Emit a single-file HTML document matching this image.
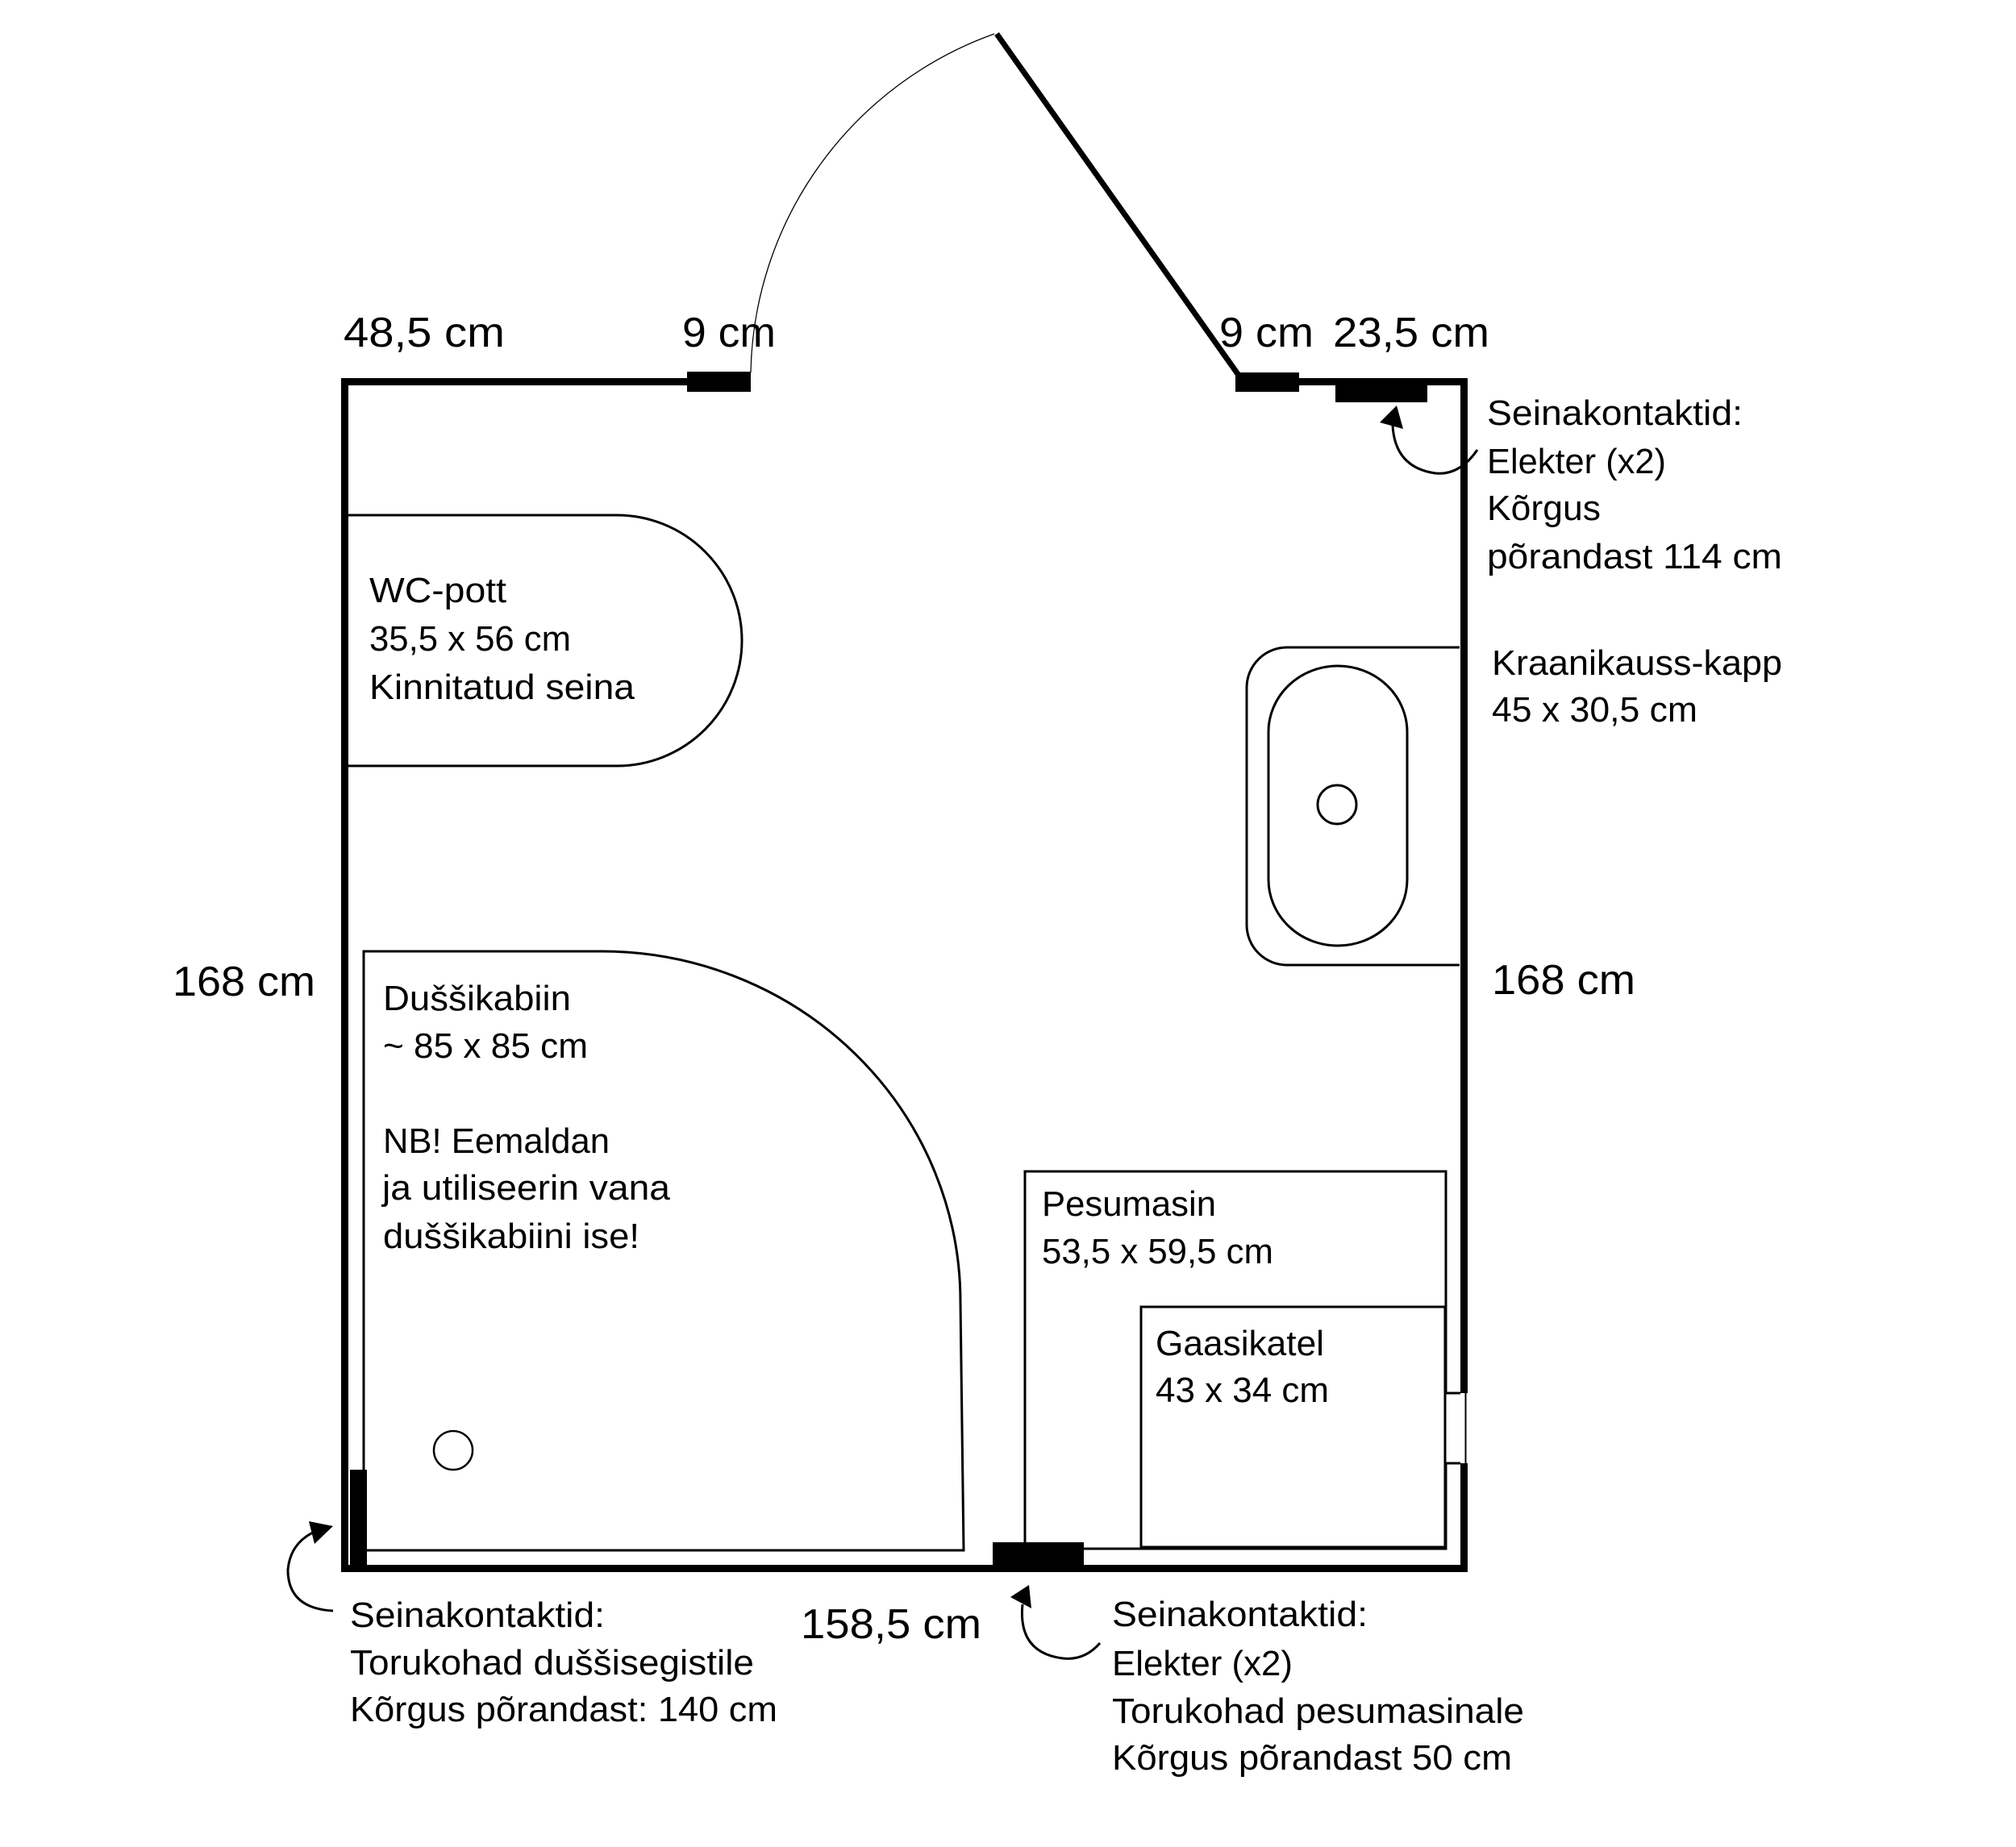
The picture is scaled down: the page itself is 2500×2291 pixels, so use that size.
<!DOCTYPE html>
<html>
<head>
<meta charset="utf-8">
<style>
  html,body{margin:0;padding:0;background:#fff;}
  svg{display:block;}
  text{font-family:"Liberation Sans", sans-serif; fill:#000;}
  .s{font-size:44px;}
  .l{font-size:52px;}
</style>
</head>
<body>
<svg width="2500" height="2291" viewBox="0 0 2500 2291" xmlns="http://www.w3.org/2000/svg">
  <rect x="0" y="0" width="2500" height="2291" fill="#fff"/>

  <!-- Walls -->
  <rect x="423" y="469" width="429" height="9" fill="#000"/>
  <rect x="1611" y="469" width="209" height="9" fill="#000"/>
  <rect x="423" y="469" width="9" height="1481" fill="#000"/>
  <rect x="423" y="1941" width="1397" height="9" fill="#000"/>
  <rect x="1811" y="469" width="9" height="1259" fill="#000"/>
  <rect x="1811" y="1815" width="9" height="135" fill="#000"/>
  <line x1="1817.5" y1="1728" x2="1817.5" y2="1815" stroke="#000" stroke-width="2"/>

  <!-- Door blocks & switch block -->
  <rect x="852" y="461" width="79" height="25" fill="#000"/>
  <rect x="1532" y="462" width="79" height="24" fill="#000"/>
  <rect x="1656" y="469" width="114" height="30" fill="#000"/>
  <rect x="1231" y="1913" width="113" height="28" fill="#000"/>
  <rect x="434" y="1823" width="21" height="119" fill="#000"/>

  <!-- Door -->
  <path d="M 931 462 A 455 455 0 0 1 1233 42" fill="none" stroke="#000" stroke-width="1.3"/>
  <line x1="1236" y1="42" x2="1535" y2="464" stroke="#000" stroke-width="7"/>

  <!-- WC -->
  <path d="M 432 639 L 765 639 A 155 155.5 0 0 1 765 950 L 432 950" fill="none" stroke="#000" stroke-width="3"/>

  <!-- Sink cabinet -->
  <path d="M 1810 803 L 1596 803 A 50 50 0 0 0 1546 853 L 1546 1147 A 50 50 0 0 0 1596 1197 L 1810 1197" fill="none" stroke="#000" stroke-width="3"/>
  <rect x="1573" y="826" width="172" height="347" rx="86" ry="82" fill="none" stroke="#000" stroke-width="3"/>
  <circle cx="1658" cy="998" r="24" fill="none" stroke="#000" stroke-width="3"/>

  <!-- Shower -->
  <path d="M 451 1823 L 451 1180 L 746 1180 A 445 435 0 0 1 1191 1615 L 1195 1923 L 455 1923" fill="none" stroke="#000" stroke-width="3"/>
  <circle cx="562" cy="1799" r="24" fill="none" stroke="#000" stroke-width="2.5"/>

  <!-- Washing machine -->
  <path d="M 1271 1913 L 1271 1453 L 1793 1453 L 1793 1728 L 1811 1728" fill="none" stroke="#000" stroke-width="3"/>
  <path d="M 1811 1815 L 1793 1815 L 1793 1921 L 1344 1921" fill="none" stroke="#000" stroke-width="3"/>
  <!-- Gas boiler -->
  <rect x="1415" y="1621" width="377" height="298" fill="none" stroke="#000" stroke-width="3"/>

  <!-- Arrows -->
  <path d="M 1832 558 Q 1810 590 1780 587 Q 1730 580 1727 528" fill="none" stroke="#000" stroke-width="3"/>
  <polygon points="1732,503 1711,524 1740,532" fill="#000"/>

  <path d="M 1364 2038 Q 1345 2060 1318 2057 Q 1262 2050 1268 1990" fill="none" stroke="#000" stroke-width="3"/>
  <polygon points="1276,1966 1253,1981 1279,1995" fill="#000"/>

  <path d="M 413 1998 Q 357 1995 357 1947 Q 360 1915 388 1901" fill="none" stroke="#000" stroke-width="3"/>
  <polygon points="413,1893 383,1887 390,1915" fill="#000"/>

  <!-- Large dimension labels -->
  <text class="l" x="426" y="430" textLength="200" lengthAdjust="spacingAndGlyphs">48,5 cm</text>
  <text class="l" x="846" y="430" textLength="116" lengthAdjust="spacingAndGlyphs">9 cm</text>
  <text class="l" x="1512" y="430" textLength="117" lengthAdjust="spacingAndGlyphs">9 cm</text>
  <text class="l" x="1653" y="430" textLength="194" lengthAdjust="spacingAndGlyphs">23,5 cm</text>
  <text class="l" x="214" y="1235" textLength="177" lengthAdjust="spacingAndGlyphs">168 cm</text>
  <text class="l" x="1850" y="1233" textLength="178" lengthAdjust="spacingAndGlyphs">168 cm</text>
  <text class="l" x="993" y="2032" textLength="224" lengthAdjust="spacingAndGlyphs">158,5 cm</text>

  <!-- Top-right note -->
  <text class="s" x="1844" y="527" textLength="317" lengthAdjust="spacingAndGlyphs">Seinakontaktid:</text>
  <text class="s" x="1844" y="587" textLength="222" lengthAdjust="spacingAndGlyphs">Elekter (x2)</text>
  <text class="s" x="1844" y="645" textLength="141" lengthAdjust="spacingAndGlyphs">Kõrgus</text>
  <text class="s" x="1844" y="705" textLength="366" lengthAdjust="spacingAndGlyphs">põrandast 114 cm</text>

  <!-- Sink label -->
  <text class="s" x="1850" y="837" textLength="360" lengthAdjust="spacingAndGlyphs">Kraanikauss-kapp</text>
  <text class="s" x="1850" y="895" textLength="255" lengthAdjust="spacingAndGlyphs">45 x 30,5 cm</text>

  <!-- WC label -->
  <text class="s" x="458" y="747" textLength="170" lengthAdjust="spacingAndGlyphs">WC-pott</text>
  <text class="s" x="458" y="807" textLength="250" lengthAdjust="spacingAndGlyphs">35,5 x 56 cm</text>
  <text class="s" x="458" y="867" textLength="329" lengthAdjust="spacingAndGlyphs">Kinnitatud seina</text>

  <!-- Shower label -->
  <text class="s" x="475" y="1253" textLength="233" lengthAdjust="spacingAndGlyphs">Duššikabiin</text>
  <text class="s" x="475" y="1312" textLength="254" lengthAdjust="spacingAndGlyphs">~ 85 x 85 cm</text>
  <text class="s" x="475" y="1430" textLength="281" lengthAdjust="spacingAndGlyphs">NB! Eemaldan</text>
  <text class="s" x="474" y="1488" textLength="357" lengthAdjust="spacingAndGlyphs">ja utiliseerin vana</text>
  <text class="s" x="475" y="1548" textLength="318" lengthAdjust="spacingAndGlyphs">duššikabiini ise!</text>

  <!-- Washing machine label -->
  <text class="s" x="1292" y="1508" textLength="216" lengthAdjust="spacingAndGlyphs">Pesumasin</text>
  <text class="s" x="1292" y="1567" textLength="287" lengthAdjust="spacingAndGlyphs">53,5 x 59,5 cm</text>

  <!-- Gas boiler label -->
  <text class="s" x="1433" y="1681" textLength="209" lengthAdjust="spacingAndGlyphs">Gaasikatel</text>
  <text class="s" x="1433" y="1739" textLength="215" lengthAdjust="spacingAndGlyphs">43 x 34 cm</text>

  <!-- Bottom-left note -->
  <text class="s" x="434" y="2018" textLength="316" lengthAdjust="spacingAndGlyphs">Seinakontaktid:</text>
  <text class="s" x="434" y="2077" textLength="501" lengthAdjust="spacingAndGlyphs">Torukohad duššisegistile</text>
  <text class="s" x="434" y="2135" textLength="530" lengthAdjust="spacingAndGlyphs">Kõrgus põrandast: 140 cm</text>

  <!-- Bottom-right note -->
  <text class="s" x="1379" y="2017" textLength="317" lengthAdjust="spacingAndGlyphs">Seinakontaktid:</text>
  <text class="s" x="1379" y="2078" textLength="224" lengthAdjust="spacingAndGlyphs">Elekter (x2)</text>
  <text class="s" x="1379" y="2137" textLength="511" lengthAdjust="spacingAndGlyphs">Torukohad pesumasinale</text>
  <text class="s" x="1379" y="2195" textLength="496" lengthAdjust="spacingAndGlyphs">Kõrgus põrandast 50 cm</text>
</svg>
</body>
</html>
